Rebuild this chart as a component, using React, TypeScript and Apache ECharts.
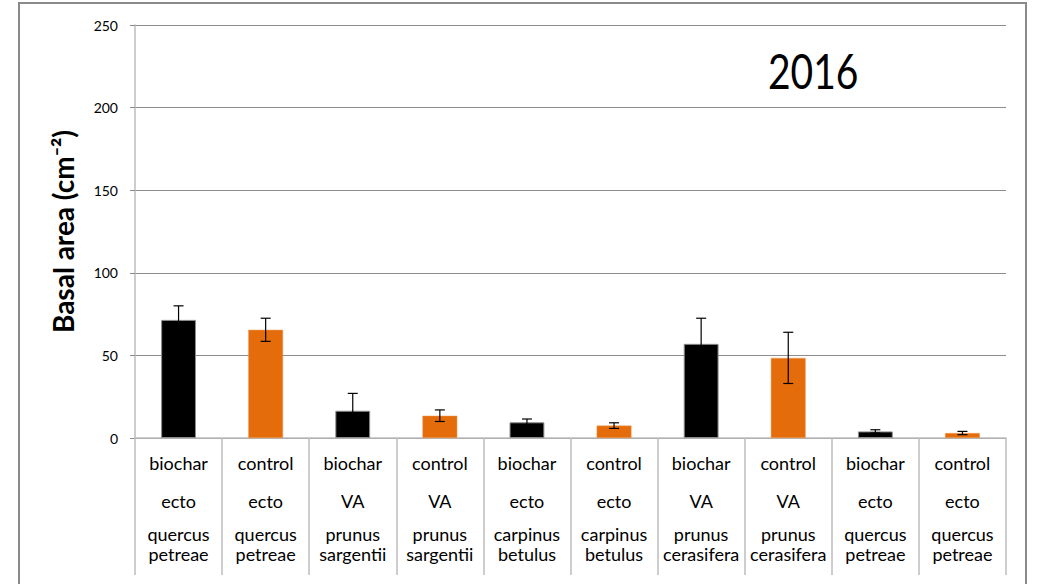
import React, { useEffect, useRef } from "react";
import * as echarts from "echarts";

const treatments = ["biochar", "control", "biochar", "control", "biochar", "control", "biochar", "control", "biochar", "control"];
const mycorrhiza = ["ecto", "ecto", "VA", "VA", "ecto", "ecto", "VA", "VA", "ecto", "ecto"];
const species = [
  "quercus petreae", "quercus petreae", "prunus sargentii", "prunus sargentii",
  "carpinus betulus", "carpinus betulus", "prunus cerasifera", "prunus cerasifera",
  "quercus petreae", "quercus petreae",
];
const basalArea = [71.5, 65.5, 16.5, 13.5, 9.5, 7.5, 57, 48.5, 4, 3];
const errors = [8.5, 7, 10.5, 3.5, 2, 1.7, 15.5, 15.5, 1, 1];
const yTicks = [0, 50, 100, 150, 200, 250];
const yearLabel = "2016";

const LABEL_FONT = "Lato, 'Liberation Sans', sans-serif";

export default function App() {
  const ref = useRef<HTMLDivElement>(null);
  useEffect(() => {
    if (!ref.current) return;
    const chart = echarts.init(ref.current, null, { renderer: "svg" });
    const cats = treatments.map((t, i) => `${t}|${mycorrhiza[i]}|${species[i]}`);
    chart.setOption({
      animation: false,
      backgroundColor: "#ffffff",
      textStyle: { fontFamily: LABEL_FONT },
      graphic: [
        {
          type: "rect",
          shape: { x: 19, y: 3, width: 1007, height: 620 },
          style: { fill: "none", stroke: "#8a8a8a", lineWidth: 2 },
          silent: true,
          z: -1,
        },
        {
          type: "text",
          x: 768,
          y: 47,
          scaleY: 1.22,
          style: {
            text: yearLabel,
            font: "39px Lato, 'Liberation Sans', sans-serif",
            fill: "#000",
            verticalAlign: "top",
            align: "left",
          },
        },
      ],
      grid: { left: 135, right: 32, top: 25, bottom: 146, containLabel: false },
      xAxis: {
        type: "category",
        data: cats,
        axisLine: { show: true, lineStyle: { color: "#bdbdbd", width: 1.5 } },
        axisTick: { show: true, interval: 0, length: 137, lineStyle: { color: "#bdbdbd", width: 1.5 } },
        axisLabel: {
          interval: 0,
          margin: 10,
          color: "#000",
          formatter: (_v: string, idx: number) => {
            const sp = species[idx].split(" ");
            return `{t|${treatments[idx]}}\n{m|${mycorrhiza[idx]}}\n{s|${sp[0]}}\n{s|${sp[1]}}`;
          },
          rich: {
            t: { fontSize: 18, lineHeight: 30, fontFamily: LABEL_FONT, color: "#000" },
            m: { fontSize: 18, lineHeight: 46, fontFamily: LABEL_FONT, color: "#000" },
            s: { fontSize: 18, lineHeight: 20, fontFamily: LABEL_FONT, color: "#000" },
          },
        },
        splitLine: { show: false },
      },
      yAxis: {
        type: "value",
        min: 0,
        max: 250,
        interval: 50,
        name: "Basal area (cm⁻²)",
        nameLocation: "middle",
        nameGap: 58,
        nameRotate: 90,
        nameTextStyle: {
          fontSize: 28,
          fontWeight: "bold",
          color: "#000",
          fontFamily: LABEL_FONT,
        },
        axisLine: { show: true, lineStyle: { color: "#bdbdbd", width: 1.5 } },
        axisTick: { show: true, inside: false, length: 5, lineStyle: { color: "#8c8c8c" } },
        axisLabel: {
          margin: 17,
          fontSize: 14,
          color: "#000",
          fontFamily: LABEL_FONT,
          formatter: (v: number) => (yTicks.includes(v) ? String(v) : ""),
        },
        splitLine: { show: true, lineStyle: { color: "#8c8c8c", width: 1 } },
      },
      series: [
        {
          type: "bar",
          data: basalArea.map((v, i) => ({
            value: v,
            itemStyle:
              treatments[i] === "biochar"
                ? { color: "#000000", borderColor: "#8c8c8c", borderWidth: 1 }
                : { color: "#E46C0A", borderColor: "#f0a060", borderWidth: 0.5 },
          })),
          barWidth: "40%",
          z: 2,
        },
        {
          type: "custom",
          z: 5,
          data: basalArea.map((v, i) => [i, v, errors[i]]),
          renderItem: (_params: any, api: any) => {
            const x = api.value(0);
            const v = api.value(1);
            const e = api.value(2);
            const top = api.coord([x, v + e]);
            const bot = api.coord([x, Math.max(0, v - e)]);
            const half = 5;
            const style = { stroke: "#000000", lineWidth: 1.2 };
            return {
              type: "group",
              children: [
                { type: "line", shape: { x1: top[0], y1: top[1], x2: bot[0], y2: bot[1] }, style },
                { type: "line", shape: { x1: top[0] - half, y1: top[1], x2: top[0] + half, y2: top[1] }, style },
                { type: "line", shape: { x1: bot[0] - half, y1: bot[1], x2: bot[0] + half, y2: bot[1] }, style },
              ],
            };
          },
        },
      ],
    });
    return () => chart.dispose();
  }, []);
  return (
    <div
      ref={ref}
      style={{ position: "absolute", left: 0, top: 0, width: 1038, height: 584 }}
    />
  );
}
